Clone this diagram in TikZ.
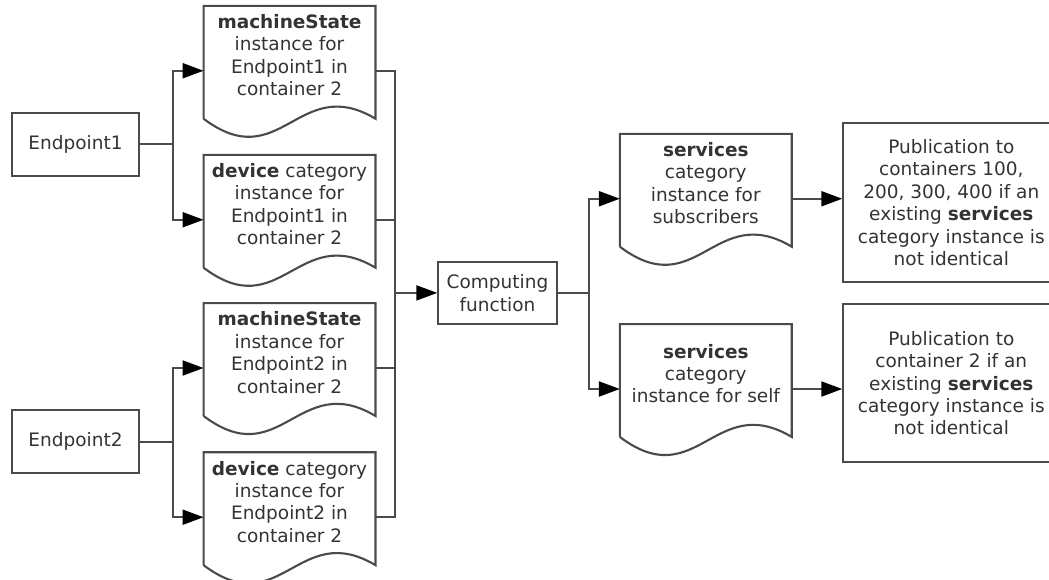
\documentclass[tikz,border=0pt]{standalone}
\usepackage{fontspec}
\setmainfont{DejaVu Sans}
\usepackage{tikz}
\usetikzlibrary{arrows.meta,positioning,calc}
\definecolor{linegray}{HTML}{4A4A4A}
\definecolor{txtgray}{HTML}{333333}

\begin{document}
\begin{tikzpicture}[x=1pt, y=-1pt,
  every node/.style={font=\fontsize{18.5pt}{22.4pt}\selectfont, text=txtgray},
  box/.style={draw=linegray, line width=2.1pt, inner sep=0pt, align=center},
  docbox/.style={minimum width=171.5pt, minimum height=129.5pt, inner sep=0pt},
  doctext/.style={align=center, inner sep=0pt},
  wire/.style={draw=linegray, line width=2.1pt},
  conn/.style={wire, -{Triangle[length=21pt,width=15pt,color=black,fill=black]}}]
\useasboundingbox (0,0) rectangle (1049,579);

% endpoints and the computing step
\node[box, minimum width=127.6pt, minimum height=63.3pt] (ep1) at (75.5,144.3) {Endpoint1};
\node[box, minimum width=127.6pt, minimum height=63.3pt] (ep2) at (75.5,441.7) {Endpoint2};
\node[box, minimum width=118.4pt, minimum height=62.3pt] (comp) at (497.5,292.9) {Computing\\function};

% document shapes
\node[docbox] (ms1) at (289.5,70.75) {};
\node[docbox] (dev1) at (289.5,219.75) {};
\node[docbox] (ms2) at (289.5,368) {};
\node[docbox] (dev2) at (289.5,517.2) {};
\node[docbox] (svc1) at (705.8,198.75) {};
\node[docbox] (svc2) at (705.8,389) {};
\foreach \d in {ms1,dev1,ms2,dev2,svc1,svc2}
  \draw[wire] ([yshift=17pt]\d.south west) -- (\d.north west) -- (\d.north east) -- ([yshift=17pt]\d.south east)
    .. controls +(-77,-46) and +(77,58) .. ([yshift=17pt]\d.south west);

\node[doctext] (ms1t) at ([yshift=15.5pt]ms1.center) {\textbf{machineState}\\instance for\\Endpoint1 in\\container 2};
\node[doctext] (dev1t) at ([yshift=15.5pt]dev1.center) {\textbf{device} category\\instance for\\Endpoint1 in\\container 2};
\node[doctext] (ms2t) at ([yshift=15.5pt]ms2.center) {\textbf{machineState}\\instance for\\Endpoint2 in\\container 2};
\node[doctext] (dev2t) at ([yshift=15.5pt]dev2.center) {\textbf{device} category\\instance for\\Endpoint2 in\\container 2};
\node[doctext] (svc1t) at ([yshift=15.5pt]svc1.center) {\textbf{services}\\category\\instance for\\subscribers};
\node[doctext] (svc2t) at ([yshift=15.5pt]svc2.center) {\textbf{services}\\category\\instance for self};

% publications
\node[box, minimum width=216pt, minimum height=158.4pt] (pub1) at (951.3,202.5) {Publication to\\containers 100,\\200, 300, 400 if an\\existing \textbf{services}\\category instance is\\not identical};
\node[box, minimum width=216pt, minimum height=158.4pt] (pub2) at (951.3,383.2) {Publication to\\container 2 if an\\existing \textbf{services}\\category instance is\\not identical};

% connectors
\coordinate (f1) at ([xshift=32.7pt]ep1.east);
\coordinate (f2) at ([xshift=32.7pt]ep2.east);
\coordinate (bus) at ([xshift=-42pt]comp.west);
\coordinate (f3) at ([xshift=31.6pt]comp.east);
\draw[conn] (ep1.east) -- (f1) |- (ms1.west);
\draw[conn] (f1) |- (dev1.west);
\draw[conn] (ep2.east) -- (f2) |- (ms2.west);
\draw[conn] (f2) |- (dev2.west);
\foreach \d in {ms1,dev1,ms2,dev2} \draw[wire] (\d.east) -| (bus);
\draw[conn] (bus) -- (comp.west);
\draw[conn] (comp.east) -- (f3) |- (svc1.west);
\draw[conn] (f3) |- (svc2.west);
\draw[conn] (svc1.east) -- (svc1.east -| pub1.west);
\draw[conn] (svc2.east) -- (svc2.east -| pub2.west);
\end{tikzpicture}
\end{document}
